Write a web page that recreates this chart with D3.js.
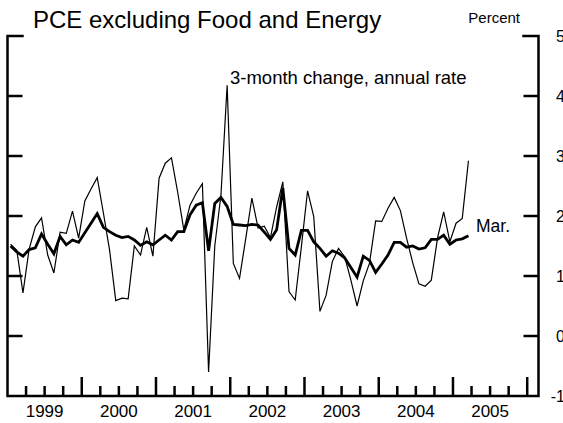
<!DOCTYPE html>
<html>
<head>
<meta charset="utf-8">
<script src="https://cdn.jsdelivr.net/npm/d3@7"></script>
<style>
  html, body { margin: 0; padding: 0; background: #fff; }
  svg { display: block; font-family: "Liberation Sans", Arial, sans-serif; }
</style>
</head>
<body>
<div id="chart"></div>
<script>
// monthly, Jan 1999 .. Mar 2005
const startYear = 1999;
const threeMonth = [
  1.53, 1.43, 0.72, 1.45, 1.82, 1.97, 1.35, 1.05, 1.73, 1.71, 2.08, 1.63,
  2.25, 2.45, 2.64, 2.05, 1.43, 0.59, 0.63, 0.62, 1.50, 1.35, 1.81, 1.33,
  2.63, 2.88, 2.97, 2.40, 1.77, 2.18, 2.38, 2.54, -0.60, 1.50, 2.35, 4.18,
  1.21, 0.96, 1.62, 2.30, 1.80, 1.83, 1.64, 2.15, 2.57, 0.74, 0.60, 1.49,
  2.42, 1.99, 0.41, 0.68, 1.24, 1.46, 1.32, 0.93, 0.50, 0.92, 1.21, 1.92,
  1.91, 2.13, 2.31, 2.09, 1.63, 1.22, 0.87, 0.83, 0.93, 1.63, 2.07, 1.57,
  1.88, 1.96, 2.92
];
const twelveMonth = [
  1.50, 1.40, 1.33, 1.44, 1.47, 1.70, 1.53, 1.37, 1.66, 1.52, 1.60, 1.56,
  1.72, 1.88, 2.04, 1.81, 1.74, 1.68, 1.64, 1.66, 1.60, 1.51, 1.57, 1.52,
  1.60, 1.68, 1.60, 1.74, 1.74, 2.02, 2.18, 2.22, 1.42, 2.21, 2.31, 2.16,
  1.86, 1.85, 1.84, 1.86, 1.85, 1.73, 1.61, 1.77, 2.47, 1.46, 1.35, 1.76,
  1.76, 1.57, 1.46, 1.33, 1.42, 1.38, 1.30, 1.14, 0.98, 1.33, 1.26, 1.06,
  1.20, 1.35, 1.56, 1.56, 1.48, 1.50, 1.45, 1.47, 1.61, 1.61, 1.68, 1.53,
  1.60, 1.62, 1.67
];
const years = [1999, 2000, 2001, 2002, 2003, 2004, 2005];
const yTicks = [-1, 0, 1, 2, 3, 4, 5];

const width = 563, height = 423;
const mLeft = 7.5, mRight = 538.5, mTop = 36, mBottom = 396;

const svg = d3.select("#chart").append("svg")
  .attr("width", width).attr("height", height);

const x = d3.scaleLinear().domain([1999, 2006.152]).range([mLeft, mRight]);
const y = d3.scaleLinear().domain([-1, 5]).range([mBottom, mTop]);

const monthX = (i) => x(startYear + (i + 0.5) / 12);

// title and unit
svg.append("text").attr("x", 33).attr("y", 28)
  .style("font-size", "24px").text("PCE excluding Food and Energy");
svg.append("text").attr("x", 520).attr("y", 23).attr("text-anchor", "end")
  .style("font-size", "15px").text("Percent");

// frame
const frame = svg.append("g").attr("stroke", "#000").attr("stroke-width", 2.5)
  .attr("fill", "none");
frame.append("path")
  .attr("d", `M${mLeft + 15},${mTop}H${mLeft}V${mBottom}H${mRight}V${mTop}H${mRight - 15}`)
  .attr("stroke-linecap", "square");

// y ticks, both sides
const yt = yTicks.filter((v) => v > -1 && v < 5);
frame.selectAll("line.yl").data(yt).join("line").attr("class", "yl")
  .attr("x1", mLeft).attr("x2", mLeft + 15)
  .attr("y1", (d) => y(d)).attr("y2", (d) => y(d));
frame.selectAll("line.yr").data(yt).join("line").attr("class", "yr")
  .attr("x1", mRight - 15).attr("x2", mRight)
  .attr("y1", (d) => y(d)).attr("y2", (d) => y(d));

// right-hand labels run off the edge, as in the original
svg.append("g").style("font-size", "16px")
  .selectAll("text").data(yTicks).join("text")
  .attr("x", 565).attr("y", (d) => y(d) + 6).attr("text-anchor", "end")
  .text((d) => d);

// x ticks: quarters
const quarters = d3.range(1, (2006 - 1999) * 4 + 1).map((q) => 1999 + q / 4);
frame.selectAll("line.xt").data(quarters).join("line").attr("class", "xt")
  .attr("x1", (d) => x(d)).attr("x2", (d) => x(d))
  .attr("y1", mBottom)
  .attr("y2", (d) => (Number.isInteger(d) ? mBottom - 19 : mBottom - 10));

svg.append("g").style("font-size", "17px")
  .selectAll("text").data(years).join("text")
  .attr("x", (d) => x(d + 0.5)).attr("y", 417).attr("text-anchor", "middle")
  .text((d) => d);

// series
const line = d3.line().x((d, i) => monthX(i)).y((d) => y(d));
svg.append("path").datum(threeMonth)
  .attr("d", line).attr("fill", "none").attr("stroke", "#000")
  .attr("stroke-width", 1.2);
svg.append("path").datum(twelveMonth)
  .attr("d", line).attr("fill", "none").attr("stroke", "#000")
  .attr("stroke-width", 2.8);

// labels
svg.append("text").attr("x", 230).attr("y", 84)
  .style("font-size", "18.5px").text("3-month change, annual rate");
svg.append("text").attr("x", 476).attr("y", 232)
  .style("font-size", "17.5px").text("Mar.");
</script>
</body>
</html>
